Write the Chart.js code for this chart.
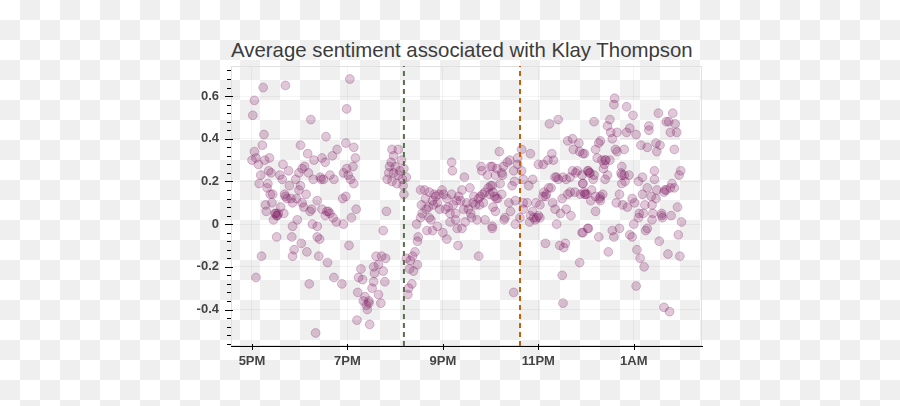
<!DOCTYPE html>
<html>
<head>
<meta charset="utf-8">
<script src="https://cdn.jsdelivr.net/npm/chart.js@4/dist/chart.umd.min.js"></script>
<style>
  html, body { margin: 0; padding: 0; }
  body {
    width: 900px; height: 406px; position: relative; overflow: hidden;
    /* the reference is a transparent png shown on a checkerboard */
    background: repeating-conic-gradient(#efefef 0 25%, #ffffff 0 50%) 0 0 / 40px 40px;
  }
  #title {
    position: absolute; left: 231px; top: 40px;
    font: 20.4px "Liberation Sans", Arial, sans-serif; line-height: 20px;
    color: #3c3c3c; white-space: nowrap;
  }
  canvas { position: absolute; left: 0; top: 0; }
</style>
</head>
<body>
<div id="title">Average sentiment associated with Klay Thompson</div>
<canvas id="myChart" width="900" height="406"></canvas>
<script>
// x = minutes after 5PM, y = average sentiment
const pts5pm = [[14,0.64],[42,0.65],[3,0.58],[1,0.51],[74,0.49],[15,0.42],[93,0.41],[13,0.37],[61,0.37],[3,0.34],
  [0,0.30],[5,0.31],[16,0.30],[22,0.31],[8,0.28],[70,0.33],[78,0.30],[88,0.31],[101,0.32],[107,0.35],[92,0.29],
  [39,0.28],[46,0.25],[66,0.27],[63,0.26],[21,0.25],[24,0.24],[11,0.23],[35,0.23],[38,0.21],[71,0.24],[86,0.22],
  [90,0.21],[59,0.24],[55,0.21],[77,0.21],[98,0.23],[103,0.21],[9,0.19],[20,0.19],[47,0.18],[61,0.18],[59,0.16],
  [19,0.17],[26,0.14],[23,0.14],[68,0.14],[41,0.14],[44,0.12],[49,0.12],[51,0.10],[56,0.12],[63,0.10],[65,0.08],
  [82,0.11],[17,0.09],[25,0.10],[36,0.08],[18,0.06],[75,0.07],[73,0.06],[88,0.07],[29,0.05],[31,0.04],[33,0.05],
  [40,0.05],[27,0.02],[57,0.02],[51,-0.01],[76,0.00],[82,-0.01],[94,0.06],[98,0.05],[92,0.04],[102,0.03],[106,0.01],
  [31,-0.06],[50,-0.06],[82,-0.06],[85,-0.07],[62,-0.09],[53,-0.12],[51,-0.15],[69,-0.13],[84,-0.15],[12,-0.15],
  [95,-0.18],[5,-0.25],[72,-0.28],[103,-0.25],[80,-0.51],[30,0.05],[32,0.04],[42,0.13],[87,0.21],[96,0.06]];

const pts7pm = [[123,0.68],[119,0.54],[118,0.38],[128,0.36],[130,0.31],[127,0.27],[119,0.26],[115,0.24],[121,0.23],
  [124,0.21],[128,0.19],[118,0.13],[114,0.12],[131,0.07],[125,0.03],[115,0.00],[122,-0.10],[165,-0.03],[169,0.06],
  [113,-0.28],[132,-0.45],[148,-0.47],[156,-0.15],[163,-0.15],[168,-0.16],[153,-0.20],[159,-0.19],[165,-0.22],
  [137,-0.21],[134,-0.25],[139,-0.26],[154,-0.23],[153,-0.27],[151,-0.30],[167,-0.27],[133,-0.32],[142,-0.34],
  [147,-0.36],[144,-0.38],[159,-0.33],[162,-0.37],[145,-0.40],[140,-0.36],[147,-0.37],[176,0.35],[184,0.35],
  [178,0.32],[175,0.29],[173,0.27],[180,0.27],[188,0.30],[191,0.26],[172,0.24],[178,0.24],[184,0.23],[170,0.21],
  [176,0.20],[182,0.19],[189,0.21],[194,0.22],[191,0.14],[190,0.18],[186,0.25]];

const pts830pm = [[194,-0.16],[199,-0.17],[205,-0.13],[202,-0.15],[208,-0.19],[198,-0.21],[203,-0.22],[201,-0.28],
  [197,-0.30],[196,-0.33],[209,-0.06],[208,-0.08],[207,0.00],[212,0.03],[214,0.05],[219,0.07],[213,0.09],[223,0.03],
  [225,0.02],[220,-0.03],[227,-0.03],[233,-0.01],[240,-0.04],[245,-0.07],[259,-0.10],[249,0.01],[256,0.02],
  [258,-0.02],[264,-0.02],[212,0.16],[217,0.16],[223,0.15],[229,0.14],[227,0.11],[235,0.14],[239,0.16],[241,0.14],
  [243,0.07],[233,0.10],[228,0.09],[236,0.07],[247,0.08],[251,0.14],[253,0.09],[249,0.05],[256,0.05],[260,0.13],
  [262,0.11],[266,0.07],[264,0.16],[274,0.17],[270,0.10],[272,0.07],[275,0.05],[276,0.03],[268,0.01],[283,0.02],
  [279,0.13],[285,0.12],[287,0.13],[290,0.14],[293,0.15],[299,0.14],[281,0.09],[286,0.09],[291,0.10],[297,0.17],
  [300,0.18],[251,0.29],[252,0.25],[267,0.22],[288,0.27],[296,0.23],[300,0.27],[289,0.25],[293,0.02],[302,-0.01],
  [285,-0.15],[218,0.12],[231,0.13],[222,0.08],[245,0.12],[257,0.11],[278,0.10]];

const pts10pm = [[374,0.47],[385,0.49],[311,0.34],[339,0.35],[350,0.33],[334,0.31],[377,0.33],[379,0.30],[372,0.30],
  [366,0.28],[360,0.28],[397,0.39],[403,0.40],[404,0.35],[411,0.38],[412,0.34],[416,0.33],[302,0.27],[308,0.26],
  [316,0.27],[321,0.29],[324,0.30],[315,0.23],[306,0.23],[329,0.25],[334,0.28],[339,0.25],[341,0.21],[330,0.20],
  [327,0.18],[348,0.18],[353,0.21],[312,0.19],[302,0.18],[303,0.15],[305,0.13],[309,0.12],[303,0.08],[306,0.06],
  [314,0.14],[323,0.10],[318,0.03],[317,0.02],[325,0.06],[331,0.11],[331,0.00],[337,0.03],[341,0.10],[341,0.07],
  [346,0.10],[350,0.04],[349,0.01],[353,0.06],[354,0.03],[358,0.03],[362,0.03],[362,0.09],[357,0.10],[367,0.15],
  [369,0.13],[373,0.17],[376,0.17],[370,0.14],[378,0.10],[381,0.07],[383,0.00],[388,0.05],[390,0.12],[395,0.07],
  [401,0.04],[397,0.14],[400,0.15],[406,0.15],[413,0.14],[418,0.14],[381,0.22],[385,0.21],[391,0.22],[395,0.21],
  [400,0.22],[403,0.25],[409,0.25],[415,0.23],[416,0.19],[422,0.25],[302,-0.02],[369,-0.09],[387,-0.10],[392,-0.11],
  [394,-0.09],[412,-0.18],[390,-0.24],[329,-0.32],[391,-0.37],[415,-0.04],[422,-0.02],[356,0.02],[360,0.04],
  [307,0.12],[314,0.24],[366,0.13],[383,0.22],[407,0.24]];

const pts1am = [[456,0.59],[455,0.56],[471,0.55],[479,0.51],[430,0.48],[450,0.49],[447,0.46],[451,0.43],[459,0.43],
  [453,0.40],[475,0.45],[471,0.43],[483,0.42],[499,0.46],[499,0.44],[511,0.52],[529,0.52],[521,0.48],[524,0.48],
  [532,0.47],[534,0.43],[526,0.43],[438,0.39],[436,0.38],[432,0.35],[418,0.33],[457,0.35],[459,0.34],[468,0.35],
  [489,0.37],[497,0.36],[508,0.38],[513,0.37],[509,0.34],[531,0.35],[434,0.31],[440,0.30],[443,0.28],[445,0.30],
  [450,0.30],[442,0.26],[447,0.23],[444,0.21],[423,0.25],[425,0.24],[429,0.21],[430,0.23],[416,0.19],[419,0.14],
  [421,0.14],[427,0.16],[432,0.13],[426,0.11],[438,0.13],[438,0.11],[441,0.14],[432,0.06],[465,0.27],[464,0.24],
  [468,0.23],[474,0.23],[465,0.19],[469,0.20],[462,0.14],[458,0.10],[466,0.09],[472,0.08],[478,0.12],[481,0.10],
  [486,0.20],[491,0.22],[497,0.17],[491,0.14],[502,0.13],[506,0.21],[506,0.25],[509,0.16],[518,0.15],[521,0.16],
  [526,0.17],[531,0.17],[528,0.19],[537,0.23],[539,0.25],[535,0.08],[508,0.12],[494,0.09],[503,0.09],[487,0.05],
  [486,0.03],[492,0.05],[504,0.05],[503,0.02],[515,0.05],[516,0.03],[527,0.04],[540,0.01],[480,0.00],[497,-0.02],
  [495,-0.03],[423,-0.02],[416,-0.04],[436,-0.06],[453,-0.03],[455,-0.06],[462,-0.02],[475,-0.05],[478,-0.06],
  [512,-0.08],[536,-0.05],[448,-0.13],[484,-0.12],[488,-0.16],[523,-0.14],[538,-0.15],[493,-0.20],[483,-0.29],
  [518,-0.39],[525,-0.41],[424,0.24],[418,0.15],[437,0.12],[465,0.23],[519,0.16],[515,0.04],[444,0.30]];

// game markers (minutes after 5PM)
const tipOff = 191;     // ~8:11PM
const finalBuzzer = 337; // ~10:37PM

const xTicks = [0, 120, 240, 360, 480];
const xTickLabels = ['5PM', '7PM', '9PM', '11PM', '1AM'];
const yTicks = [-0.4, -0.2, 0, 0.2, 0.4, 0.6];
const yTickLabels = ['-0.4', '-0.2', '0', '0.2', '0.4', '0.6'];

const xMin = -26.4, xMax = 565.8;
const yMin = -0.571, yMax = 0.741;

// minor ticks every 0.04 on the y axis
const yMinorTicks = [];
for (let v = -0.56; v <= 0.73; v += 0.04) yMinorTicks.push(Math.round(v * 100) / 100);

const allPts = [...pts5pm, ...pts7pm, ...pts830pm, ...pts10pm, ...pts1am];

const tickFont = { family: '"Liberation Sans", Arial, sans-serif', size: 13, weight: 'bold' };
const gridColor = 'rgba(0, 0, 0, 0.045)';

// bokeh-ish ticks (major + minor) and the light plot outline
const axisTicks = {
  id: 'axisTicks',
  beforeDatasetsDraw(chart) {
    const { ctx, chartArea: a } = chart;
    ctx.save();
    ctx.strokeStyle = '#e0e0e0';
    ctx.lineWidth = 1;
    ctx.strokeRect(a.left + 0.5, a.top + 0.5, a.right - a.left - 1, a.bottom - a.top - 1);
    ctx.restore();
  },
  afterDraw(chart) {
    const { ctx, chartArea: a, scales: { x, y } } = chart;
    ctx.save();
    ctx.strokeStyle = '#000';
    ctx.lineWidth = 1;
    ctx.beginPath();
    yMinorTicks.forEach(v => {
      const py = Math.round(y.getPixelForValue(v)) + 0.5;
      ctx.moveTo(a.left - 4, py); ctx.lineTo(a.left, py);
    });
    yTicks.forEach(v => {
      const py = Math.round(y.getPixelForValue(v)) + 0.5;
      ctx.moveTo(a.left - 6, py); ctx.lineTo(a.left + 2, py);
    });
    xTicks.forEach(v => {
      const px = Math.round(x.getPixelForValue(v)) + 0.5;
      ctx.moveTo(px, a.bottom - 2); ctx.lineTo(px, a.bottom + 4);
    });
    ctx.stroke();
    ctx.restore();
  }
};

new Chart(document.getElementById('myChart'), {
  type: 'scatter',
  data: {
    datasets: [
      {
        type: 'line',
        data: [{ x: tipOff, y: yMin }, { x: tipOff, y: yMax }],
        borderColor: '#56704a',
        borderWidth: 2,
        borderDash: [5, 4],
        pointRadius: 0,
        showLine: true,
        order: 0
      },
      {
        type: 'line',
        data: [{ x: finalBuzzer, y: yMin }, { x: finalBuzzer, y: yMax }],
        borderColor: '#c2600c',
        borderWidth: 2,
        borderDash: [5, 4],
        pointRadius: 0,
        showLine: true,
        order: 0
      },
      {
        data: allPts.map(([m, v]) => ({ x: m, y: v })),
        backgroundColor: 'rgba(125, 25, 98, 0.24)',
        borderColor: 'rgba(125, 25, 98, 0.26)',
        borderWidth: 1,
        pointRadius: 4.4,
        order: 1
      }
    ]
  },
  options: {
    responsive: false,
    devicePixelRatio: 1,
    animation: false,
    layout: { padding: { top: 66, right: 198, bottom: 0, left: 0 } },
    plugins: {
      legend: { display: false },
      tooltip: { enabled: false },
      title: { display: false }
    },
    scales: {
      x: {
        type: 'linear',
        min: xMin,
        max: xMax,
        afterBuildTicks: s => { s.ticks = xTicks.map(v => ({ value: v })); },
        afterFit: s => { s.height = 60; },
        ticks: {
          callback: (v, i) => xTickLabels[i],
          font: tickFont,
          color: '#444',
          padding: 8,
          maxRotation: 0,
          autoSkip: false
        },
        grid: { color: gridColor, drawTicks: false },
        border: { color: '#000', width: 1 }
      },
      y: {
        type: 'linear',
        min: yMin,
        max: yMax,
        afterBuildTicks: s => { s.ticks = yTicks.map(v => ({ value: v })); },
        afterFit: s => { s.width = 231; },
        ticks: {
          callback: (v, i) => yTickLabels[i],
          font: tickFont,
          color: '#444',
          padding: 12
        },
        grid: { color: gridColor, drawTicks: false },
        border: { color: '#000', width: 1 }
      }
    }
  },
  plugins: [axisTicks]
});
</script>
</body>
</html>
